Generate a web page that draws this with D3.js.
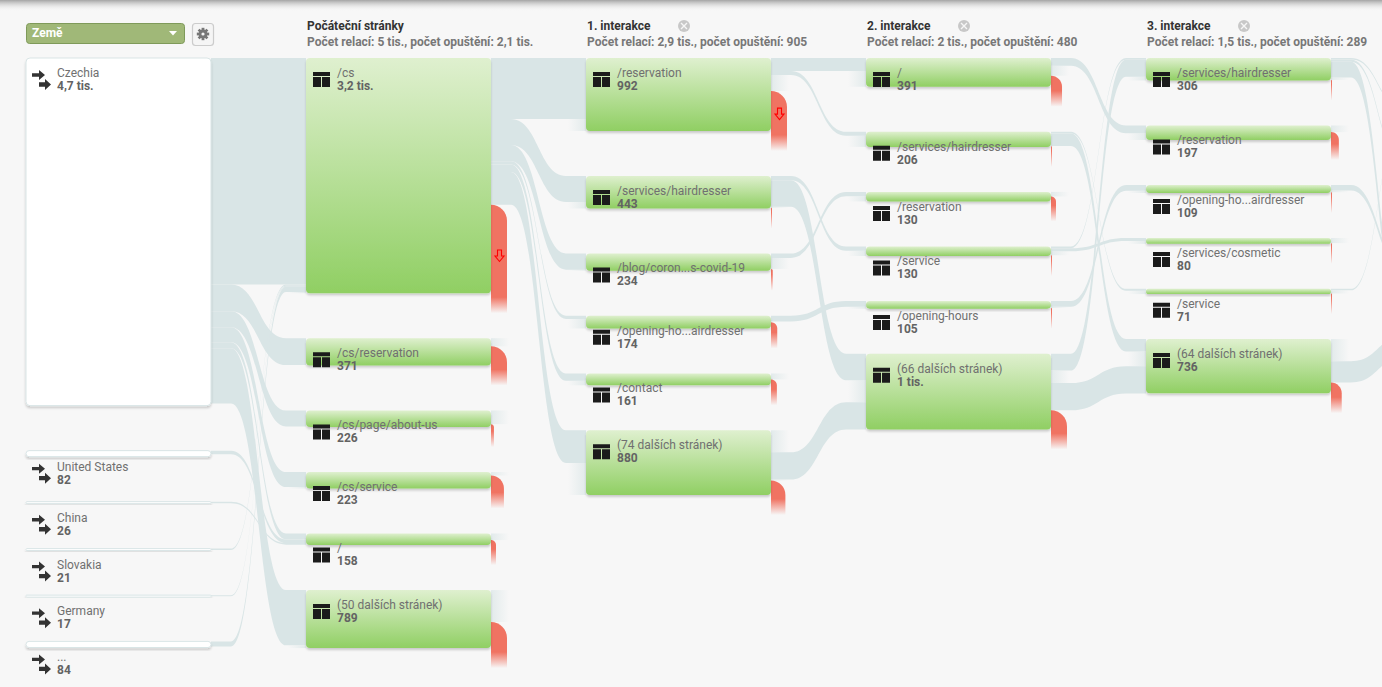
<!DOCTYPE html>
<html lang="cs">
<head>
<meta charset="utf-8">
<title>Tok chování</title>
<script src="https://cdn.jsdelivr.net/npm/d3@7/dist/d3.min.js"></script>
<style>
html,body{margin:0;padding:0;background:#f7f7f7;overflow:hidden}
svg{display:block;font-family:Roboto,Arial,sans-serif}
</style>
</head>
<body>
<svg id="chart" width="1382" height="687"></svg>
<script>
// ---- data ----
const dimensionName = "Země";
const columnTitles = ["Počáteční stránky","1. interakce","2. interakce","3. interakce"];
const columnSubtitles = [
  "Počet relací: 5 tis., počet opuštění: 2,1 tis.",
  "Počet relací: 2,9 tis., počet opuštění: 905",
  "Počet relací: 2 tis., počet opuštění: 480",
  "Počet relací: 1,5 tis., počet opuštění: 289"
];

const countryLabels = ["Czechia","United States","China","Slovakia","Germany","..."];
const countryText   = ["4,7 tis.","82","26","21","17","84"];
const countryValues = [4730,82,26,21,17,84];

const startLabels = ["/cs","/cs/reservation","/cs/page/about-us","/cs/service","/","(50 dalších stránek)"];
const startText   = ["3,2 tis.","371","226","223","158","789"];
const startValues = [3200,371,226,223,158,789];
const startDrops  = [1205,260,40,176,68,355];

const step1Labels = ["/reservation","/services/hairdresser","/blog/coron...s-covid-19","/opening-ho...airdresser","/contact","(74 dalších stránek)"];
const step1Text   = ["992","443","234","174","161","880"];
const step1Values = [992,443,234,174,161,880];
const step1Drops  = [543,10,24,85,80,196];

const step2Labels = ["/","/services/hairdresser","/reservation","/service","/opening-hours","(66 dalších stránek)"];
const step2Text   = ["391","206","130","130","105","1 tis."];
const step2Values = [391,206,130,130,105,1030];
const step2Drops  = [150,10,68,10,10,260];

const step3Labels = ["/services/hairdresser","/reservation","/opening-ho...airdresser","/services/cosmetic","/service","(64 dalších stránek)"];
const step3Text   = ["306","197","109","80","71","736"];
const step3Values = [306,197,109,80,71,736];
const step3Drops  = [8,107,10,10,8,146];

// the column past the right edge: only its links' beginnings are visible
const step4Values = [100,150,100,80,60,800];

// [from index, to index, sessions]; null = a faded stub with no visible other end
const flows0 = [[0,0,3080],[0,1,366],[0,2,217],[0,3,204],[0,4,81],[0,5,752],[1,4,50],[2,4,21],[3,0,18],[4,0,14],[5,0,70]];
const flows1 = [[0,0,830],[0,1,355],[0,2,220],[0,3,45],[0,4,100],[0,5,445]];
const flows2 = [[0,0,176],[0,1,55],[1,3,60],[1,5,360],[2,2,60],[3,4,80],[null,5,300],[5,null,300],[5,5,370]];
const flows3 = [[0,1,105],[1,4,25],[1,5,170],[3,0,25],[3,3,40],[4,2,80],[5,0,230],[5,null,170],[null,5,200],[5,5,370]];
const flows4 = [[0,1,20],[0,2,30],[0,5,215],[2,4,75],[4,1,20],[5,null,300],[5,5,290]];

// ---- scales ----
const svg = d3.select("#chart");
const xCol = d3.scaleLinear().domain([0,5]).range([26,1426]);
const hVal = d3.scaleLinear().domain([0,1000]).range([0,73.5]);
const nodeW = 185, topY = 58, gapY = 45, stubW = 18;
const LINK = "#d9e5e6", RED = "#f07362";

const columns = [
  {labels:countryLabels,text:countryText,values:countryValues,drops:countryValues.map(()=>0)},
  {labels:startLabels,text:startText,values:startValues,drops:startDrops},
  {labels:step1Labels,text:step1Text,values:step1Values,drops:step1Drops},
  {labels:step2Labels,text:step2Text,values:step2Values,drops:step2Drops},
  {labels:step3Labels,text:step3Text,values:step3Values,drops:step3Drops},
  {labels:step4Values.map(()=>""),text:step4Values.map(()=>""),values:step4Values,drops:step4Values.map(()=>0)}
];
const flows = [flows0,flows1,flows2,flows3,flows4];

// ---- layout ----
const nodes = columns.map((c,ci)=>{
  let y = topY;
  return c.values.map((v,i)=>{
    const h = hVal(v), dh = hVal(c.drops[i]);
    const n = {ci,i,x:xCol(ci),y,h,dh,label:c.labels[i],text:c.text[i],outY:y,inY:y};
    y += h + gapY;
    return n;
  });
});

const bands = [], stubsOut = [], stubsIn = [];
flows.forEach((list,ci)=>{
  list.forEach(([a,b,v])=>{
    const t = hVal(v);
    if(a!==null && b!==null){
      const s = nodes[ci][a], e = nodes[ci+1][b];
      bands.push({x0:s.x+nodeW,x1:e.x,y0:s.outY,y1:e.inY,t});
      s.outY += t; e.inY += t;
    } else if(a!==null){
      const s = nodes[ci][a];
      stubsOut.push({x:s.x+nodeW,y:s.outY,t});
      s.outY += t;
    } else {
      const e = nodes[ci+1][b];
      stubsIn.push({x:e.x,y:e.inY,t});
      e.inY += t;
    }
  });
});
// whatever is left unassigned on a node becomes a stub
nodes.slice(0,5).forEach((col,ci)=>col.forEach(n=>{
  if(ci>0){
    const rest = n.y+n.h-n.inY;
    if(rest>0.8) stubsIn.push({x:n.x,y:n.inY,t:rest});
    const restOut = n.y+n.h-n.dh-n.outY;
    if(restOut>0.8) stubsOut.push({x:n.x+nodeW,y:n.outY,t:restOut});
  }
}));

function bandPath(d){
  const xa=d.x0+20, xb=d.x1-20, m=(xa+xb)/2, p=d3.path();
  p.moveTo(d.x0,d.y0); p.lineTo(xa,d.y0);
  p.bezierCurveTo(m,d.y0,m,d.y1,xb,d.y1);
  p.lineTo(d.x1,d.y1); p.lineTo(d.x1,d.y1+d.t); p.lineTo(xb,d.y1+d.t);
  p.bezierCurveTo(m,d.y1+d.t,m,d.y0+d.t,xa,d.y0+d.t);
  p.lineTo(d.x0,d.y0+d.t); p.closePath();
  return p.toString();
}

// ---- defs ----
const defs = svg.append("defs");
function grad(id,x2,y2,stops){
  const g = defs.append("linearGradient").attr("id",id).attr("x1",0).attr("y1",0).attr("x2",x2).attr("y2",y2);
  stops.forEach(s=>g.append("stop").attr("offset",s[0]).attr("stop-color",s[1]).attr("stop-opacity",s[2]===undefined?1:s[2]));
  return g;
}
grad("gNode",0,1,[[0,"#dff0cf"],[1,"#90cf63"]]);
grad("gStubOut",1,0,[[0,LINK,.7],[1,LINK,0]]);
grad("gStubIn",1,0,[[0,LINK,0],[1,LINK,.7]]);
grad("gTop",0,1,[[0,"#888",.75],[1,"#f7f7f7",0]]);

const fs = defs.append("filter").attr("id","shadow").attr("x","-5%").attr("y","-20%").attr("width","110%").attr("height","160%")
  .attr("filterUnits","objectBoundingBox");
fs.append("feDropShadow").attr("dx",0).attr("dy",2).attr("stdDeviation",1).attr("flood-color","#000").attr("flood-opacity",.18);

// ---- page chrome ----
svg.append("rect").attr("width",1382).attr("height",687).attr("fill","#f7f7f7");
svg.append("rect").attr("width",1382).attr("height",11).attr("fill","url(#gTop)");

// ---- links ----
svg.append("g").selectAll("path").data(bands).join("path").attr("d",bandPath).attr("fill",LINK);
svg.append("g").selectAll("rect").data(stubsOut).join("rect")
  .attr("x",d=>d.x).attr("y",d=>d.y).attr("width",stubW).attr("height",d=>d.t).attr("fill","url(#gStubOut)");
svg.append("g").selectAll("rect").data(stubsIn).join("rect")
  .attr("x",d=>d.x-stubW).attr("y",d=>d.y).attr("width",stubW).attr("height",d=>d.t).attr("fill","url(#gStubIn)");

// ---- drop-offs ----
const dropNodes = nodes.slice(1,5).flat().filter(n=>n.dh>0);
dropNodes.forEach((n,k)=>{
  const top=n.y+n.h-n.dh, bottom=n.y+n.h+20, len=bottom-top;
  const g = defs.append("linearGradient").attr("id","gDrop"+k).attr("x1",0).attr("y1",0).attr("x2",0).attr("y2",1);
  g.append("stop").attr("offset",0).attr("stop-color",RED);
  g.append("stop").attr("offset",(n.dh+4)/len).attr("stop-color",RED);
  g.append("stop").attr("offset",1).attr("stop-color",RED).attr("stop-opacity",0);
  n.dropId="gDrop"+k;
  n.dw=Math.max(1,Math.min(16,n.dh));
});
function dropPath(n){
  const x=n.x+nodeW, top=n.y+n.h-n.dh, bottom=n.y+n.h+20, w=n.dw, p=d3.path();
  p.moveTo(x,top);
  p.bezierCurveTo(x+w*.55,top,x+w,top+w*.45,x+w,top+w);
  p.lineTo(x+w,bottom); p.lineTo(x,bottom); p.closePath();
  return p.toString();
}
svg.append("g").selectAll("path").data(dropNodes).join("path").attr("d",dropPath).attr("fill",d=>`url(#${d.dropId})`);
// red outline arrows on the two tallest drop-offs
svg.append("g").selectAll("path").data(dropNodes.filter(n=>n.dh>=30)).join("path")
  .attr("transform",n=>`translate(${n.x+nodeW+8.5},${n.y+n.h-n.dh+n.dh*.58})`)
  .attr("d","M-2,-6H2V0H4.5L0,5.5L-4.5,0H-2Z")
  .attr("fill","none").attr("stroke","#f00").attr("stroke-width",1.1);

// ---- nodes ----
const visible = nodes.slice(0,5);
const nodeG = svg.append("g").selectAll("g").data(visible.flat()).join("g");
nodeG.append("rect")
  .attr("x",d=>d.x).attr("y",d=>d.y).attr("width",nodeW).attr("height",d=>Math.max(d.h,2))
  .attr("rx",d=>Math.min(4,d.h/2)).attr("filter","url(#shadow)")
  .attr("fill",d=>d.ci===0?"#fff":"url(#gNode)")
  .attr("stroke",d=>d.ci===0?"#d9e5e6":"none");

// icons
nodeG.filter(d=>d.ci>0).append("path")
  .attr("transform",d=>`translate(${d.x+7},${d.y+14})`)
  .attr("d","M0,0H17V15H0ZM0,4V5H17V4ZM8,5V15H9V5Z")
  .attr("fill","#1b1b1b").attr("fill-rule","evenodd");
nodeG.filter(d=>d.ci===0).append("path")
  .attr("transform",d=>`translate(${d.x+6},${d.y+(d.i===0?12:13)})`)
  .attr("d","M0,3.3H7V0L13,5L7,10V6.7H0ZM7,12.3H13V9L19,14.5L13,20V16.7H7Z")
  .attr("fill","#333");

// labels
nodeG.append("text").attr("x",d=>d.x+31).attr("y",d=>d.y+(d.ci===0&&d.i>0?20:19))
  .attr("font-size",12).attr("fill","#707070").text(d=>d.label);
nodeG.append("text").attr("x",d=>d.x+31).attr("y",d=>d.y+(d.ci===0&&d.i>0?33:32))
  .attr("font-size",12).attr("font-weight",700).attr("fill","#636363").text(d=>d.text);

// ---- column headers ----
const headG = svg.append("g").selectAll("g").data(columnTitles).join("g")
  .attr("transform",(d,i)=>`translate(${xCol(i+1)+1},0)`);
headG.append("text").attr("y",30).attr("font-size",12).attr("font-weight",700).attr("fill","#333").text(d=>d);
headG.append("text").attr("y",46).attr("font-size",12).attr("font-weight",700).attr("fill","#777").text((d,i)=>columnSubtitles[i]);
const closeG = headG.filter((d,i)=>i>0).append("g").attr("transform","translate(97,26)");
closeG.append("circle").attr("r",6).attr("fill","#c8c8c8");
closeG.append("path").attr("d","M-3,-3L3,3M3,-3L-3,3").attr("stroke","#f7f7f7").attr("stroke-width",1.4);

// ---- dimension selector and settings ----
svg.append("rect").attr("x",26.5).attr("y",23.5).attr("width",158).attr("height",20).attr("rx",3)
  .attr("fill","#a0b878").attr("stroke","#7f9a5a");
svg.append("text").attr("x",32).attr("y",37).attr("font-size",12).attr("font-weight",700).attr("fill","#fff").text(dimensionName);
svg.append("path").attr("d","M169,31H177L173,35.5Z").attr("fill","#fff");
svg.append("rect").attr("x",192.5).attr("y",23.5).attr("width",21).attr("height",22).attr("rx",3)
  .attr("fill","#f5f5f5").attr("stroke","#ccc").attr("stroke-width",1.2);
const gear = svg.append("g").attr("transform","translate(203,34)");
gear.selectAll("rect").data(d3.range(4)).join("rect")
  .attr("x",-1.4).attr("y",-6.2).attr("width",2.8).attr("height",12.4).attr("fill","#777")
  .attr("transform",d=>`rotate(${d*45})`);
gear.append("circle").attr("r",4.4).attr("fill","#777");
gear.append("circle").attr("r",1.6).attr("fill","#f5f5f5");
</script>
</body>
</html>
